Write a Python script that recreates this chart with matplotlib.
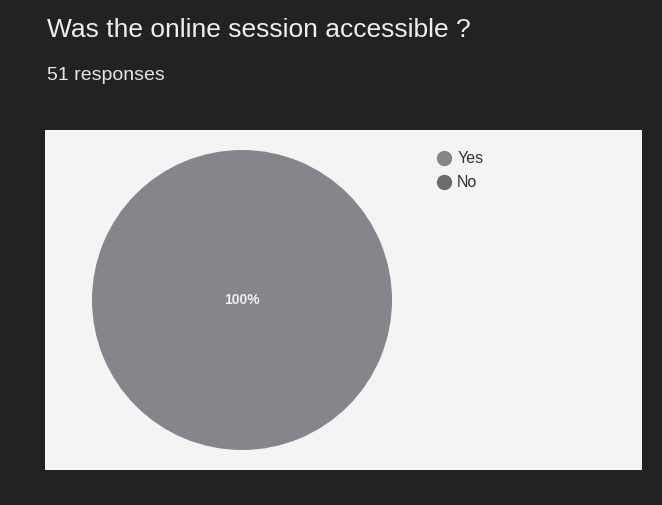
import matplotlib.pyplot as plt
from matplotlib.lines import Line2D

# Survey answers (Google Forms style pie)
labels = ['Yes', 'No']
counts = [51, 0]
colors = ['#84868c', '#6c6c6e']
title = 'Was the online session accessible ?'
subtitle = '51 responses'

W, H = 662, 505
fig = plt.figure(figsize=(W / 100, H / 100), dpi=100)
fig.patch.set_facecolor('#222222')

# white card behind the chart
panel = fig.add_axes([45 / W, (H - 470) / H, 597 / W, 340 / H])
panel.set_facecolor('#f4f4f4')
panel.set_xticks([])
panel.set_yticks([])
for s in panel.spines.values():
    s.set_visible(False)

fig.text(47 / W, 1 - 30 / H, title, color='#eeeeee', fontsize=19,
         family='Liberation Sans', va='center')
fig.text(47 / W, 1 - 75 / H, subtitle, color='#e6e6e6', fontsize=14,
         family='Liberation Sans', va='center')

# pie axes: centre (242, 299), radius 150 px
ax = fig.add_axes([92 / W, (H - 450) / H, 300 / W, 300 / H])
ax.pie(counts, colors=colors, startangle=90, counterclock=False,
       autopct=lambda p: f'{p:.0f}%' if p > 0 else '',
       textprops={'color': '#f0f0f0', 'fontsize': 10, 'weight': 'bold',
                  'family': 'Liberation Sans'},
       pctdistance=0.0, wedgeprops={'linewidth': 0})
ax.set_xlim(-1, 1)
ax.set_ylim(-1, 1)

handles = [Line2D([], [], marker='o', linestyle='', markersize=10,
                  markerfacecolor=c, markeredgecolor=c) for c in colors]
fig.legend(handles, labels, loc='upper left',
           bbox_to_anchor=(422 / W, 1 - 137 / H), frameon=False,
           labelcolor='#333333', prop={'family': 'Liberation Sans', 'size': 11.5},
           handletextpad=0.3, labelspacing=0.55, handlelength=1.0)

fig.savefig('out.png', dpi=100, facecolor=fig.get_facecolor())
